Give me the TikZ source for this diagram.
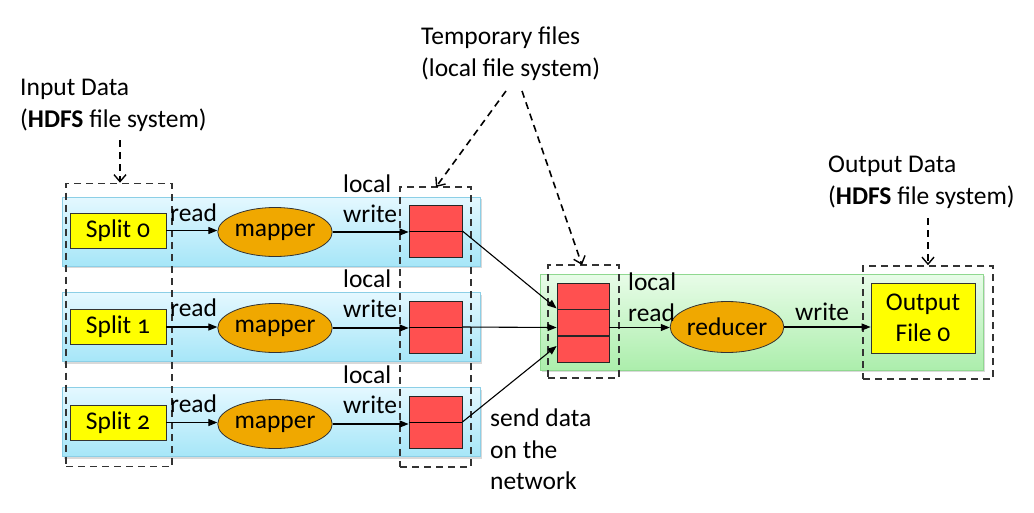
\documentclass[tikz,border=0pt]{standalone}
\usepackage{fontspec}
\setmainfont[Numbers=OldStyle]{Carlito}
\usetikzlibrary{arrows.meta,calc,shapes.geometric,shadows}
\definecolor{bandtop}{HTML}{E4F8FF}
\definecolor{bandbot}{HTML}{A6E6F8}
\definecolor{bandline}{HTML}{8CCFE6}
\definecolor{gtop}{HTML}{E8FCE8}
\definecolor{gbot}{HTML}{ACEEAC}
\definecolor{gline}{HTML}{90D890}
\definecolor{splitfill}{HTML}{FFFF00}
\definecolor{mapfill}{HTML}{F0A800}
\definecolor{redfill}{HTML}{FF5050}
\definecolor{dashcol}{HTML}{333333}
\tikzset{
  txt/.style={font=\fontsize{25.5}{31.5}\selectfont, inner sep=0pt},
  band/.style={draw=bandline, line width=0.8pt, top color=bandtop, bottom color=bandbot,
    drop shadow={shadow xshift=2pt, shadow yshift=-2pt, opacity=0.3}, inner sep=0pt},
  gband/.style={draw=gline, line width=0.8pt, top color=gtop, bottom color=gbot,
    drop shadow={shadow xshift=2pt, shadow yshift=-2pt, opacity=0.3}, inner sep=0pt},
  splitbox/.style={draw=black!80, line width=0.8pt, fill=splitfill, minimum width=96pt, minimum height=35pt, inner sep=0pt, font=\fontsize{25.5}{31}\selectfont},
  mapbox/.style={ellipse, draw=black!80, line width=0.8pt, fill=mapfill, minimum width=114pt, minimum height=49pt, inner sep=0pt, font=\fontsize{25.5}{31}\selectfont},
  redbox/.style={draw=black!85, line width=0.8pt, fill=redfill, minimum width=53pt, minimum height=52pt, inner sep=0pt},
  redpart/.style={draw=black!85, line width=0.8pt, fill=redfill, minimum width=52pt, minimum height=26pt, inner sep=0pt},
  dbox/.style={draw=dashcol, line width=1.6pt, dash pattern=on 7pt off 5pt, inner sep=0pt},
  conn/.style={draw=black, line width=1.1pt, -{Triangle[length=9pt,width=7pt]}},
  dconn/.style={draw=black, line width=1.6pt, dash pattern=on 7pt off 5pt, -{Straight Barb[length=7pt,width=12pt,line width=1.4pt]}},
}
\begin{document}
\begin{tikzpicture}[x=1pt,y=-1pt]
\useasboundingbox (0,0) rectangle (1034,512);
% bands
\node[band, minimum width=418pt, minimum height=69pt] (band1) at (271,231.5) {};
\node[band, minimum width=418pt, minimum height=69pt] (band2) at (271,327) {};
\node[band, minimum width=418pt, minimum height=69pt] (band3) at (271,422) {};
\node[gband, minimum width=443pt, minimum height=96pt] (gband) at (761.5,322) {};
% split boxes
\node[splitbox] (s0) at (118,230.5) {Split 0};
\node[splitbox] (s1) at (118,327) {Split 1};
\node[splitbox] (s2) at (118,422.5) {Split 2};
% mappers
\node[mapbox] (m0) at (275,232) {mapper};
\node[mapbox] (m1) at (275,328) {mapper};
\node[mapbox] (m2) at (275,424) {mapper};
% red boxes
\node[redbox] (r0) at (435.5,231) {};
\node[redbox] (r1) at (435.5,327) {};
\node[redbox] (r2) at (435.5,422) {};
\foreach \r in {r0,r1,r2} \draw[line width=0.8pt] (\r.west) -- (\r.east);
% reducer stack
\node[redpart] (q1) at (583,296) {};
\node[redpart] (q2) at (583,322.5) {};
\node[redpart] (q3) at (583,349) {};
% reducer
\node[mapbox, minimum width=113pt, minimum height=51pt] (red) at (727,327) {reducer};
% output
\node[splitbox, minimum width=104pt, minimum height=70pt, align=center, font=\fontsize{25.5}{31}\selectfont] (out) at (923,318) {Output\\File 0};
% dashed boxes
\node[dbox, minimum width=106pt, minimum height=283pt] (din) at (119,325) {};
\node[dbox, minimum width=71pt, minimum height=280pt] (dtmp) at (435.5,327) {};
\node[dbox, minimum width=71pt, minimum height=113pt] (dred) at (583.5,321.5) {};
\node[dbox, minimum width=130pt, minimum height=113pt] (dout) at (928,322.5) {};
% connectors
\draw[conn] (s0.east) -- (s0.east -| m0.west);
\draw[conn] (s1.east) -- (s1.east -| m1.west);
\draw[conn] (s2.east) -- (s2.east -| m2.west);
\draw[conn] (m0.east) -- (m0.east -| r0.west);
\draw[conn] (m1.east) -- (m1.east -| r1.west);
\draw[conn] (m2.east) -- (m2.east -| r2.west);
\coordinate (t1) at ($(q1.south west)+(0,-1)$);
\coordinate (t2) at ($(q2.west)+(0,5)$);
\coordinate (t3) at ($(q3.west)+(0,-3)$);
\draw[conn] (r0.east) -- (t1);
\draw[conn] (r1.east) -- (t2);
\draw[conn] (r2.east) -- (t3);
\coordinate (qo) at ($(q2.east)+(0,5)$);
\draw[conn] (qo) -- (qo -| red.west);
\coordinate (oin) at ($(out.west)+(0,9)$);
\draw[conn] (red.east) -- (oin);
% labels
\node[txt, anchor=base west] (rd0) at (170,221) {read};
\node[txt, anchor=base west] (rd1) at (170,316) {read};
\node[txt, anchor=base west] (rd2) at (170,412) {read};
\node[txt, anchor=base west] (lc0) at (343,192) {local};
\node[txt, anchor=base west] (wr0) at (343,222) {write};
\node[txt, anchor=base west] (lc1) at (343,287) {local};
\node[txt, anchor=base west] (wr1) at (343,317) {write};
\node[txt, anchor=base west] (lc2) at (343,383) {local};
\node[txt, anchor=base west] (wr2) at (343,413) {write};
\node[txt, anchor=base west] (lcr) at (628,290) {local};
\node[txt, anchor=base west] (rdr) at (628,321) {read};
\node[txt, anchor=base west] (wrr) at (795,320) {write};
\node[txt, anchor=north west, align=left] (send) at (490,409) {send data\\on the\\network};
\node[txt, anchor=north west, align=left] (inlab) at (20,79) {Input Data\\(\textbf{HDFS} file system)};
\node[txt, anchor=north west, align=left] (tmplab) at (421,27) {Temporary files\\(local file system)};
\node[txt, anchor=north west, align=left] (outlab) at (828,156) {Output Data\\(\textbf{HDFS} file system)};
% dashed pointer arrows
\coordinate (ia) at (120,140);
\draw[dconn] (ia) -- (ia |- din.north);
\coordinate (ta) at (506,91);
\coordinate (tb) at (522,91);
\draw[dconn] (ta) -- (436,187);
\draw[dconn] (tb) -- (582,265);
\coordinate (oa) at (928,218);
\draw[dconn] (oa) -- (oa |- dout.north);
\end{tikzpicture}
\end{document}
